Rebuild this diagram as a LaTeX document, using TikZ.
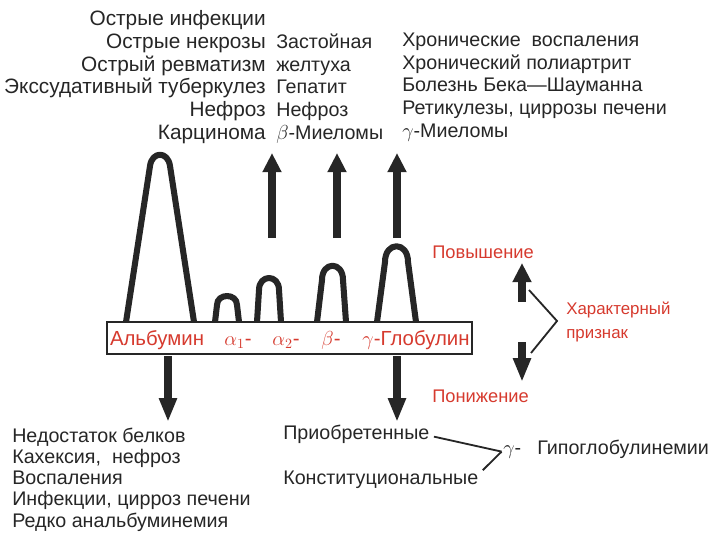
\documentclass[tikz,border=0pt]{standalone}
\usepackage{fontspec}
\setmainfont{Liberation Sans}
\usetikzlibrary{arrows.meta,positioning}
\definecolor{redlab}{RGB}{214,58,46}
\definecolor{ink}{RGB}{38,38,38}

\begin{document}
\begin{tikzpicture}[x=0.025cm,y=-0.025cm,
	every node/.style={inner sep=0pt, text=ink},
	txt/.style={font=\fontsize{14}{16.1}\selectfont},
	lowtxt/.style={font=\fontsize{14}{15.1}\selectfont},
	redtxt/.style={font=\fontsize{13}{16.4}\selectfont, text=redlab},
	striptxt/.style={font=\fontsize{14.5}{16}\selectfont, text=redlab},
	peak/.style={draw=ink, line width=4.3pt, line join=round},
	bigarrow/.style={draw=ink, line width=5.5pt, -{Triangle[length=0.48cm,width=0.45cm]}},
	downarrow/.style={draw=ink, line width=5.5pt, -{Triangle[length=0.6cm,width=0.42cm]}},
	thinline/.style={draw=ink, line width=1.3pt}]
	\useasboundingbox (0,0) rectangle (720,540);
	
	% what rises (base = last line)
	\node[txt, font=\fontsize{14.8}{16.1}\selectfont, align=right, anchor=base east] (incr1) at (266,139) {Острые инфекции\\Острые некрозы\\Острый ревматизм\\Экссудативный туберкулез\\Нефроз\\Карцинома};
	\node[txt, align=left, anchor=base west] (incr2) at (276,139) {Застойная\\желтуха\\Гепатит\\Нефроз\\$\beta$-Миеломы};
	\node[txt, align=left, anchor=base west] (incr3) at (402,137) {Хронические\ \ воспаления\\Хронический полиартрит\\Болезнь Бека—Шауманна\\Ретикулезы, циррозы печени\\$\gamma$-Миеломы};
	
	% fractions
	\draw[peak] (126,322) -- (150,166) .. controls (152,151) and (168,151) .. (170,166) -- (194,322);
	\foreach \xa/\xb/\xc/\xd/\yh/\yc in {215/217/237/239/305/293, 257/259/279/281/290/274, 317/322/343/346/280/261, 377/385/408/416/262/241}{
		\draw[peak] (\xa,322) -- (\xb,\yh) .. controls (\xb,\yc) and (\xc,\yc) .. (\xc,\yh) -- (\xd,322);
	}
	
	\node[draw=ink, line width=1.8pt, fill=white, minimum width=9.125cm, minimum height=0.8cm] (strip) at (289.5,338) {};
	\node[striptxt, anchor=base] (alb) at (157,345) {Альбумин};
	\node[striptxt, anchor=base] (alpha1) at (238,345) {$\alpha_1$-};
	\node[striptxt, anchor=base] (alpha2) at (286,345) {$\alpha_2$-};
	\node[striptxt, anchor=base] (beta) at (331,345) {$\beta$-};
	\node[striptxt, anchor=base] (gamma) at (416,345) {$\gamma$-Глобулин};
	
	\foreach \n/\x in {1/272,2/337,3/397}{
		\coordinate (upb\n) at (\x,238);
		\coordinate (upt\n) at (\x,153);
		\draw[bigarrow] (upb\n) -- (upt\n);
	}
	\foreach \n/\x in {1/168,2/397}{
		\coordinate (dnb\n) at (\x,356);
		\coordinate (dnt\n) at (\x,422);
		\draw[downarrow] (dnb\n) -- (dnt\n);
	}
	
	% legend
	\node[redtxt, anchor=base west] (rise) at (432,258) {Повышение};
	\node[redtxt, anchor=base west] (fall) at (432,402) {Понижение};
	\node[redtxt, font=\fontsize{12}{16.4}\selectfont, align=left, anchor=base west] (sign) at (566,338) {Характерный\\признак};
	\coordinate (rb) at (522,302);
	\coordinate (rt) at (522,263);
	\coordinate (fb) at (522,342);
	\coordinate (ft) at (522,382);
	\draw[bigarrow] (rb) -- (rt);
	\draw[downarrow] (fb) -- (ft);
	\coordinate (brv) at (557,321);
	\draw[thinline] (529,290) -- (brv) -- (531,353);
	
	% what falls
	\node[lowtxt, align=left, anchor=base west] (decr1) at (12,527) {Недостаток белков\\Кахексия,\ \ нефроз\\Воспаления\\Инфекции, цирроз печени\\Редко анальбуминемия};
	\node[txt, anchor=base west] (acq) at (283,439) {Приобретенные};
	\node[txt, anchor=base west] (const) at (283,484) {Конституциональные};
	\node[txt, anchor=base west] (gam) at (503,454) {$\gamma$-};
	\node[txt, anchor=base west] (hypo) at (537,454) {Гипоглобулинемии};
	\draw[thinline] ([xshift=3pt,yshift=-2pt]acq.east) -- ([xshift=-1pt]gam.west);
	\draw[thinline] ([xshift=3pt]const.north east) -- ([xshift=-1pt]gam.west);
\end{tikzpicture}
\end{document}
